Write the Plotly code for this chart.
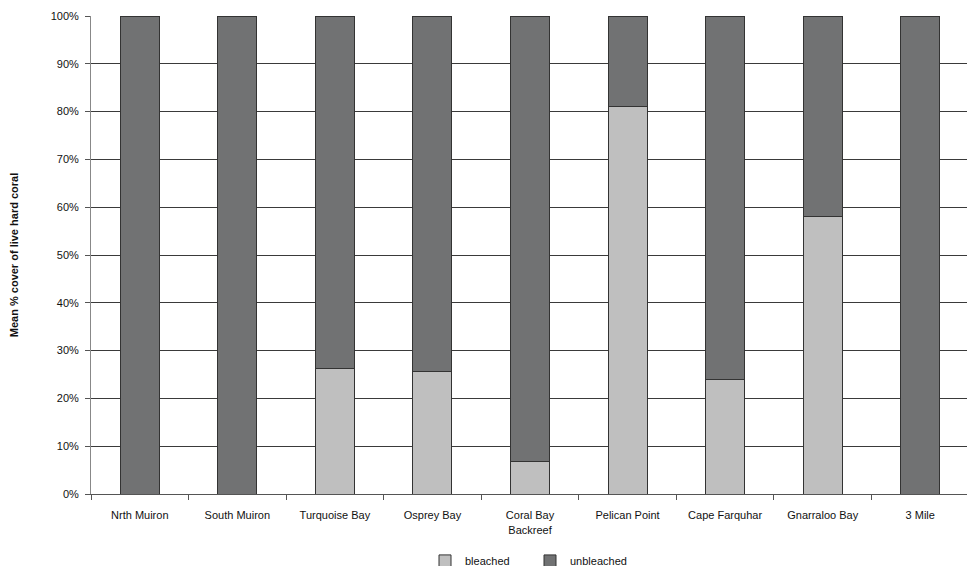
import plotly.graph_objects as go

sites = ["Nrth Muiron", "South Muiron", "Turquoise Bay", "Osprey Bay", "Coral Bay<br>Backreef",
         "Pelican Point", "Cape Farquhar", "Gnarraloo Bay", "3 Mile"]
bleached = [0, 0, 26.3, 25.6, 6.7, 81.0, 23.9, 58.0, 0]
unbleached = [100 - b for b in bleached]

font = "Liberation Sans, Arial, sans-serif"

fig = go.Figure()
fig.add_trace(go.Bar(x=sites, y=bleached, name="bleached",
                     marker=dict(color="#bfbfbf", line=dict(color="#333333", width=1))))
fig.add_trace(go.Bar(x=sites, y=unbleached, name="unbleached",
                     marker=dict(color="#717273", line=dict(color="#333333", width=1))))

fig.update_layout(
    barmode="stack", bargap=0.6,
    width=967, height=558,
    margin=dict(l=83, r=6, t=8, b=72, autoexpand=False),
    plot_bgcolor="white", paper_bgcolor="white",
    font=dict(family=font, size=11, color="#111111"),
    legend=dict(orientation="h", x=0.5, xanchor="center", y=-0.14, yanchor="middle",
                font=dict(size=11), entrywidth=60, entrywidthmode="pixels",
                traceorder="normal", itemwidth=30),
    showlegend=True,
)
fig.update_xaxes(type="category", tickson="boundaries", ticks="outside", ticklen=5,
                 tickcolor="#555555", showline=True, linecolor="#555555", linewidth=1,
                 showgrid=False, tickfont=dict(size=11), automargin=False,
                 ticklabelstandoff=11)
fig.update_yaxes(range=[0, 100], dtick=10, ticksuffix="%", ticks="outside", ticklen=5,
                 tickcolor="#555555", showline=True, linecolor="#888888", linewidth=1,
                 showgrid=True, gridcolor="#3a3a3a", gridwidth=1, zeroline=False,
                 tickfont=dict(size=11), automargin=False, ticklabelstandoff=4,
                 title=dict(text="<b>Mean % cover of live hard coral</b>", font=dict(size=11), standoff=34))

fig.write_html("out.html")
